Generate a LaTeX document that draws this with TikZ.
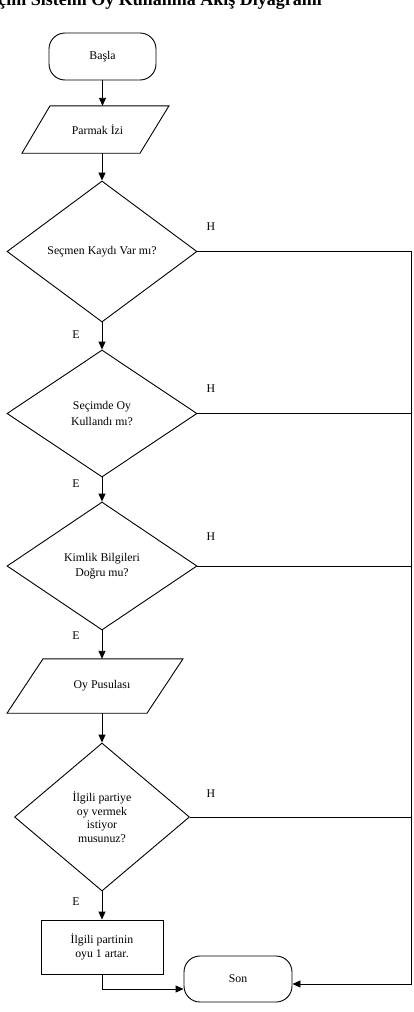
\documentclass[tikz,border=0pt]{standalone}
\usepackage{fontspec}
\setmainfont{Liberation Serif}
\usetikzlibrary{shapes.geometric,arrows.meta}
\begin{document}
\begin{tikzpicture}[x=1pt,y=-1pt,
  every node/.style={font=\fontsize{11.8}{14}\selectfont, text=black},
  ln/.style={line width=0.9pt, draw=black},
  arr/.style={ln, -{Triangle[length=8pt,width=7pt]}},
  term/.style={ln, rectangle, rounded corners=16pt, minimum width=107pt, minimum height=47pt, inner sep=0pt},
  dec/.style={ln, shape=diamond, inner sep=0pt, align=center, minimum width=190pt},
  io/.style={inner sep=0pt, align=center},
  proc/.style={ln, rectangle, minimum width=122pt, minimum height=54pt, inner sep=0pt, align=center},
  lbl/.style={inner sep=0pt}
]
\useasboundingbox (0,0) rectangle (413,1012);
\clip (0,0) rectangle (413,1012);

% title (cut at top of picture)
\node[font=\bfseries\fontsize{18}{20}\selectfont, anchor=base east, inner sep=0pt] (title) at (322,5) {Seçim Sistemi Oy Kullanma Akış Diyagramı};

% nodes
\node[term] (basla) at (102.5,56.5) {Başla};
\node[io, minimum height=47pt] (parmak) at (97.5,129.5) {Parmak İzi};
\draw[ln] ([xshift=-47.5pt]parmak.north) -- ([xshift=71.5pt]parmak.north) -- ([xshift=42.5pt]parmak.south) -- ([xshift=-75.5pt]parmak.south) -- cycle;

\node[dec, minimum height=141pt] (d1) at (102,251.5) {Seçmen Kaydı Var mı?};
\node[dec, minimum height=127pt, font=\fontsize{11.8}{15.5}\selectfont] (d2) at (102,413.5) {Seçimde Oy\\Kullandı mı?};
\node[dec, minimum height=128pt, font=\fontsize{11.8}{15.5}\selectfont] (d3) at (102,566) {Kimlik Bilgileri\\Doğru mu?};

\node[io, minimum height=54pt] (oy) at (102,686) {Oy Pusulası};
\draw[ln] ([xshift=-59pt]oy.north) -- ([xshift=81pt]oy.north) -- ([xshift=45pt]oy.south) -- ([xshift=-95pt]oy.south) -- cycle;

\node[dec, minimum width=175pt, minimum height=148pt, font=\fontsize{11.8}{13.5}\selectfont] (d4) at (102,817) {İlgili partiye\\oy vermek\\istiyor\\musunuz?};
\node[proc, font=\fontsize{11.8}{13.5}\selectfont] (task) at (102,947) {İlgili partinin\\oyu 1 artar.};
\node[term, minimum width=108pt, minimum height=46pt] (son) at (238,979) {Son};

\coordinate (rt) at (411.5,251.5);
\coordinate (rb) at (411.5,984);

% labels
\node[lbl] (h1) at (211,227) {H};
\node[lbl] (h2) at (211,389) {H};
\node[lbl] (h3) at (211,537) {H};
\node[lbl] (h4) at (211,794) {H};
\node[lbl] (e1) at (76,335) {E};
\node[lbl] (e2) at (76,484) {E};
\node[lbl] (e3) at (76,636) {E};
\node[lbl] (e4) at (76,902) {E};

% connectors
\draw[arr] (basla.south) -- (basla.south |- parmak.north);
\draw[arr] (d1.north |- parmak.south) -- (d1.north);
\draw[arr] (d1.south) -- (d2.north);
\draw[arr] (d2.south) -- (d3.north);
\draw[arr] (d3.south) -- (oy.north);
\draw[arr] (oy.south) -- (d4.north);
\draw[arr] (d4.south) -- (task.north);
\draw[arr] (task.south) |- ([yshift=-10pt]son.west);
\draw[ln] (d1.east) -- (rt) -- (rb);
\draw[arr] (rb) -- ([yshift=-5pt]son.east);
\draw[ln] (d2.east) -- (d2.east -| rt);
\draw[ln] (d3.east) -- (d3.east -| rt);
\draw[ln] (d4.east) -- (d4.east -| rt);
\end{tikzpicture}
\end{document}
